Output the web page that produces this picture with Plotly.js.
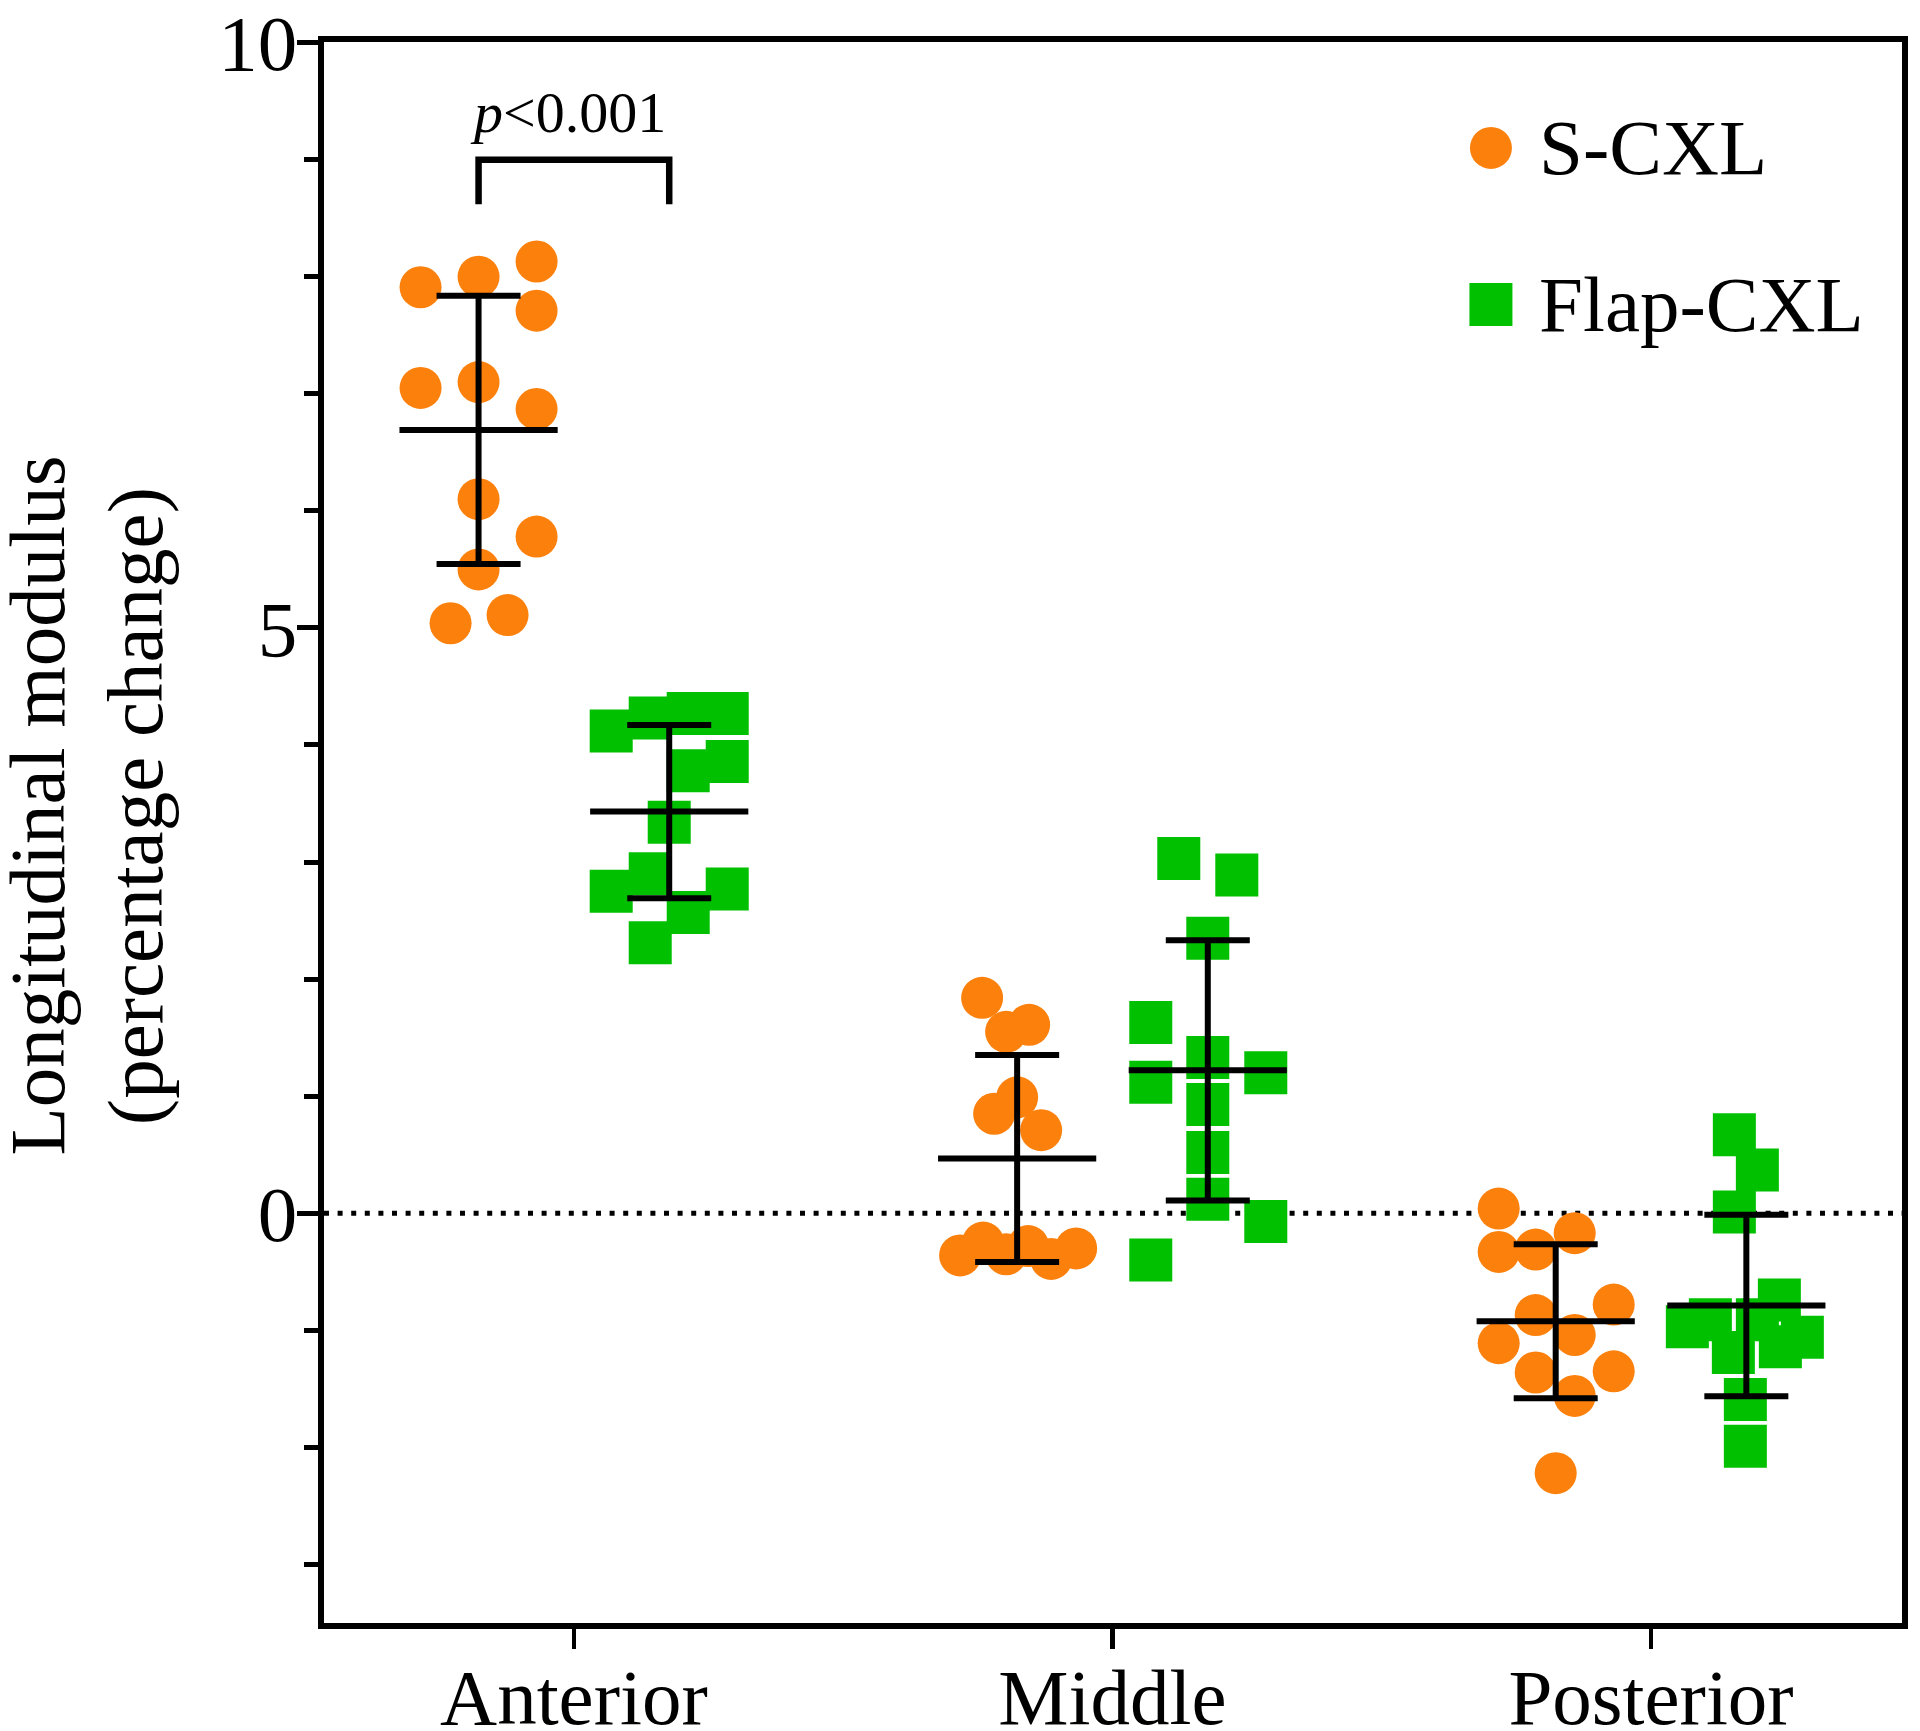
<!DOCTYPE html>
<html>
<head>
<meta charset="utf-8">
<script src="https://cdn.plot.ly/plotly-3.0.1.min.js"></script>
<style>
  html, body { margin: 0; padding: 0; background: #ffffff; }
  #chart { width: 1920px; height: 1731px; }
</style>
</head>
<body>
<div id="chart"></div>
<script>
// ---------------- DATA ----------------
const categories = ['Anterior', 'Middle', 'Posterior'];
const seriesNames = ['S-CXL', 'Flap-CXL'];

// S-CXL: percentage change of longitudinal modulus, one value per eye
const sCxlAnterior  = [7.91, 8.00, 8.13, 7.71, 7.05, 7.10, 6.87, 6.10, 5.78, 5.50, 5.04, 5.11];
const sCxlMiddle    = [1.84, 1.55, 1.61, 0.99, 0.85, 0.71, -0.36, -0.25, -0.35, -0.28, -0.39, -0.30];
const sCxlPosterior = [0.04, -0.33, -0.31, -0.17, -0.78, -0.87, -1.04, -1.11, -1.36, -1.35, -1.56, -2.22];

// Flap-CXL
const flapAnterior  = [4.12, 4.23, 4.27, 4.27, 3.86, 3.78, 3.34, 2.75, 2.90, 2.77, 2.57, 2.31];
const flapMiddle    = [3.03, 2.89, 2.35, 1.63, 1.33, 1.12, 1.20, 0.93, 0.52, 0.12, -0.07, -0.40];
const flapPosterior = [0.67, 0.37, 0.01, -0.74, -0.91, -0.97, -0.91, -1.19, -1.06, -1.14, -1.59, -1.99];

// horizontal scatter (column-plot spread) of each point, in pixels
const sCxlAnteriorSpread  = [-58, 0, 58, 58, -58, 0, 58, 0, 58, 0, -28, 29];
const sCxlMiddleSpread    = [-35, -11, 12, 0, -23, 24, -57, -34, -11, 11, 34, 59];
const sCxlPosteriorSpread = [-57, -57, -20, 19, 58, -20, 19, -57, -20, 58, 19, 0];
const flapAnteriorSpread  = [-58, -19, 19, 58, 58, 19, 0, -58, -19, 58, 19, -19];
const flapMiddleSpread    = [-29, 29, 0, -57, 0, -57, 58, 0, 0, 0, 58, -57];
const flapPosteriorSpread = [-12, 11, -12, 33, -36, -59, 11, -13, 56, 34, -1, -1];

const yTickVals = [0, 5, 10];
const pValueText = '<i>p</i>&lt;0.001';
const yTitleLines = ['Longitudinal modulus', '(percentage change)'];

// ---------------- STYLE ----------------
const ORANGE = '#FC800C';
const GREEN = '#00C000';
const FONT = 'Liberation Serif, Times New Roman, serif';
const pxPerCat = 538.5;      // pixels per category on the x axis
const groupOffset = 0.177;   // offset of each series from the category centre
const LW = 6;                // line width of summary lines

// ---------------- HELPERS ----------------
function mean(a) { return a.reduce((s, v) => s + v, 0) / a.length; }
function sd(a) {
  const m = mean(a);
  return Math.sqrt(a.reduce((s, v) => s + (v - m) * (v - m), 0) / (a.length - 1));
}
function xsFor(catIdx, sign, spread) {
  return spread.map(p => catIdx + sign * groupOffset + p / pxPerCat);
}

const sGroups = [sCxlAnterior, sCxlMiddle, sCxlPosterior];
const sSpreads = [sCxlAnteriorSpread, sCxlMiddleSpread, sCxlPosteriorSpread];
const fGroups = [flapAnterior, flapMiddle, flapPosterior];
const fSpreads = [flapAnteriorSpread, flapMiddleSpread, flapPosteriorSpread];

function pointsTrace(groups, spreads, sign, name, color, symbol, size) {
  let x = [], y = [];
  groups.forEach((g, i) => {
    x = x.concat(xsFor(i, sign, spreads[i]));
    y = y.concat(g);
  });
  return {
    type: 'scatter', mode: 'markers', name: name, x: x, y: y,
    marker: { color: color, symbol: symbol, size: size, line: { width: 0 } },
    showlegend: false, cliponaxis: false, hoverinfo: 'skip'
  };
}
function summaryTrace(groups, sign, name) {
  return {
    type: 'scatter', mode: 'markers', name: name + ' mean ± SD',
    x: groups.map((g, i) => i + sign * groupOffset),
    y: groups.map(mean),
    // line-ew symbol is drawn 1.4 x size wide -> 158 px
    marker: { symbol: 'line-ew', size: 113, color: '#000', line: { color: '#000', width: LW } },
    error_y: { type: 'data', array: groups.map(sd), visible: true, color: '#000', thickness: LW, width: 42 },
    showlegend: false, cliponaxis: false, hoverinfo: 'skip'
  };
}

const traces = [
  pointsTrace(sGroups, sSpreads, -1, seriesNames[0], ORANGE, 'circle', 42),
  pointsTrace(fGroups, fSpreads, +1, seriesNames[1], GREEN, 'square', 43),
  summaryTrace(sGroups, -1, seriesNames[0]),
  summaryTrace(fGroups, +1, seriesNames[1])
];

// p-value bracket between the two anterior groups
const bracketTop = 9.0, bracketFoot = 8.62;
const bx0 = 0 - groupOffset, bx1 = 0 + groupOffset;

const layout = {
  width: 1920, height: 1731,
  margin: { l: 324, r: 18, t: 42, b: 108, pad: 0 },
  paper_bgcolor: '#ffffff', plot_bgcolor: '#ffffff',
  font: { family: FONT, color: '#000', size: 79 },
  showlegend: false,
  xaxis: {
    type: 'linear', range: [-0.464, 2.466],
    tickmode: 'array', tickvals: [0, 1, 2], ticktext: categories,
    ticks: 'outside', ticklen: 20, tickwidth: 4.5, tickcolor: '#000',
    ticklabelstandoff: -20,
    showline: true, linewidth: 6, linecolor: '#000', mirror: true,
    showgrid: false, zeroline: false,
    tickfont: { family: FONT, size: 79, color: '#000' }
  },
  yaxis: {
    range: [-3.5, 10.005], tickmode: 'array', tickvals: yTickVals,
    ticks: 'outside', ticklen: 21, tickwidth: 5, tickcolor: '#000',
    ticklabelstandoff: -16,
    minor: { dtick: 1, tick0: 0, ticks: 'outside', ticklen: 14, tickwidth: 5, tickcolor: '#000', showgrid: false },
    showline: true, linewidth: 6, linecolor: '#000', mirror: true,
    showgrid: false, zeroline: false,
    tickfont: { family: FONT, size: 79, color: '#000' }
  },
  shapes: [
    { type: 'line', xref: 'paper', yref: 'y', x0: 0, x1: 1, y0: 0, y1: 0, layer: 'below',
      line: { color: '#000', width: 5, dash: '5px,8.6px' } },
    { type: 'path', xref: 'x', yref: 'y',
      path: `M${bx0},${bracketFoot} L${bx0},${bracketTop} L${bx1},${bracketTop} L${bx1},${bracketFoot}`,
      line: { color: '#000', width: 6.5 } },
    // legend symbols
    { type: 'circle', xref: 'paper', yref: 'paper', xsizemode: 'pixel', ysizemode: 'pixel',
      xanchor: 0.7395, yanchor: 0.933, x0: -21, x1: 21, y0: -21, y1: 21,
      fillcolor: ORANGE, line: { width: 0 } },
    { type: 'rect', xref: 'paper', yref: 'paper', xsizemode: 'pixel', ysizemode: 'pixel',
      xanchor: 0.7395, yanchor: 0.834, x0: -21.5, x1: 21.5, y0: -21.5, y1: 21.5,
      fillcolor: GREEN, line: { width: 0 } }
  ],
  annotations: [
    { text: pValueText, xref: 'x', yref: 'y', x: -0.011, y: 9.40, showarrow: false,
      xanchor: 'center', yanchor: 'middle', font: { family: FONT, size: 58, color: '#000' } },
    { text: seriesNames[0], xref: 'paper', yref: 'paper', x: 0.7719, y: 0.933, xshift: -5,
      showarrow: false, xanchor: 'left', yanchor: 'middle', font: { family: FONT, size: 79, color: '#000' } },
    { text: seriesNames[1], xref: 'paper', yref: 'paper', x: 0.7719, y: 0.834, xshift: -5,
      showarrow: false, xanchor: 'left', yanchor: 'middle', font: { family: FONT, size: 79, color: '#000' } },
    { text: yTitleLines[0], xref: 'paper', yref: 'paper', x: -0.1815, y: 0.5168, textangle: -90,
      showarrow: false, xanchor: 'center', yanchor: 'middle', font: { family: FONT, size: 79, color: '#000' } },
    { text: yTitleLines[1], xref: 'paper', yref: 'paper', x: -0.1190, y: 0.5168, textangle: -90,
      showarrow: false, xanchor: 'center', yanchor: 'middle', font: { family: FONT, size: 79, color: '#000' } }
  ]
};

Plotly.newPlot('chart', traces, layout, { displayModeBar: false, staticPlot: true });
</script>
</body>
</html>
